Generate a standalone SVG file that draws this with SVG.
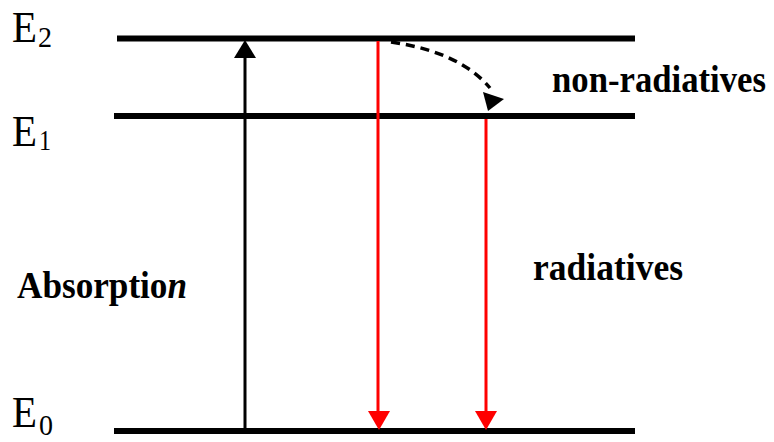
<svg xmlns="http://www.w3.org/2000/svg" width="774" height="442" viewBox="0 0 774 442">
<style>
.lvl{stroke:#000;stroke-width:6;fill:none}
.red{stroke:#ff0000;stroke-width:3;fill:none}
text{fill:#000;font-family:'Liberation Serif','Times New Roman',serif}
</style>
<rect width="774" height="442" fill="#fff"/>
<g id="E2">
<line class="lvl" x1="117" y1="38.5" x2="635" y2="38.5"/>
<text font-size="44" x="12" y="42" textLength="25" lengthAdjust="spacingAndGlyphs">E</text>
<text font-size="30" x="38" y="47" textLength="14" lengthAdjust="spacingAndGlyphs">2</text>
</g>
<g id="E1">
<line class="lvl" x1="114" y1="116" x2="635" y2="116"/>
<text font-size="44" x="12" y="146" textLength="25" lengthAdjust="spacingAndGlyphs">E</text>
<text font-size="30" x="39" y="150" textLength="12" lengthAdjust="spacingAndGlyphs">1</text>
</g>
<g id="E0">
<line class="lvl" x1="114" y1="431" x2="635" y2="431"/>
<text font-size="44" x="12" y="427" textLength="25" lengthAdjust="spacingAndGlyphs">E</text>
<text font-size="30" x="39" y="435" textLength="14" lengthAdjust="spacingAndGlyphs">0</text>
</g>
<g id="labels" font-weight="bold" font-size="38">
<text x="17" y="298" textLength="170" lengthAdjust="spacingAndGlyphs">Absorptio<tspan font-style="italic">n</tspan></text>
<text x="552" y="92" textLength="214" lengthAdjust="spacingAndGlyphs">non-radiatives</text>
<text x="533" y="280" textLength="150" lengthAdjust="spacingAndGlyphs">radiatives</text>
</g>
<g id="connectors">
<line x1="245" y1="429" x2="245" y2="56" stroke="#000" stroke-width="3"/>
<polygon points="245,40 234,58 256,58" fill="#000"/>
<line class="red" x1="378" y1="41" x2="378" y2="413"/>
<polygon points="379,430 368,411 390,411" fill="#ff0000"/>
<line class="red" x1="486" y1="119" x2="486" y2="413"/>
<polygon points="486,430 475,411 497,411" fill="#ff0000"/>
<path d="M391,42 Q460,52 490,88" stroke="#000" stroke-width="3.5" fill="none" stroke-dasharray="9,6"/>
<polygon points="483,92 504,99 488,111" fill="#000"/>
</g>
</svg>
